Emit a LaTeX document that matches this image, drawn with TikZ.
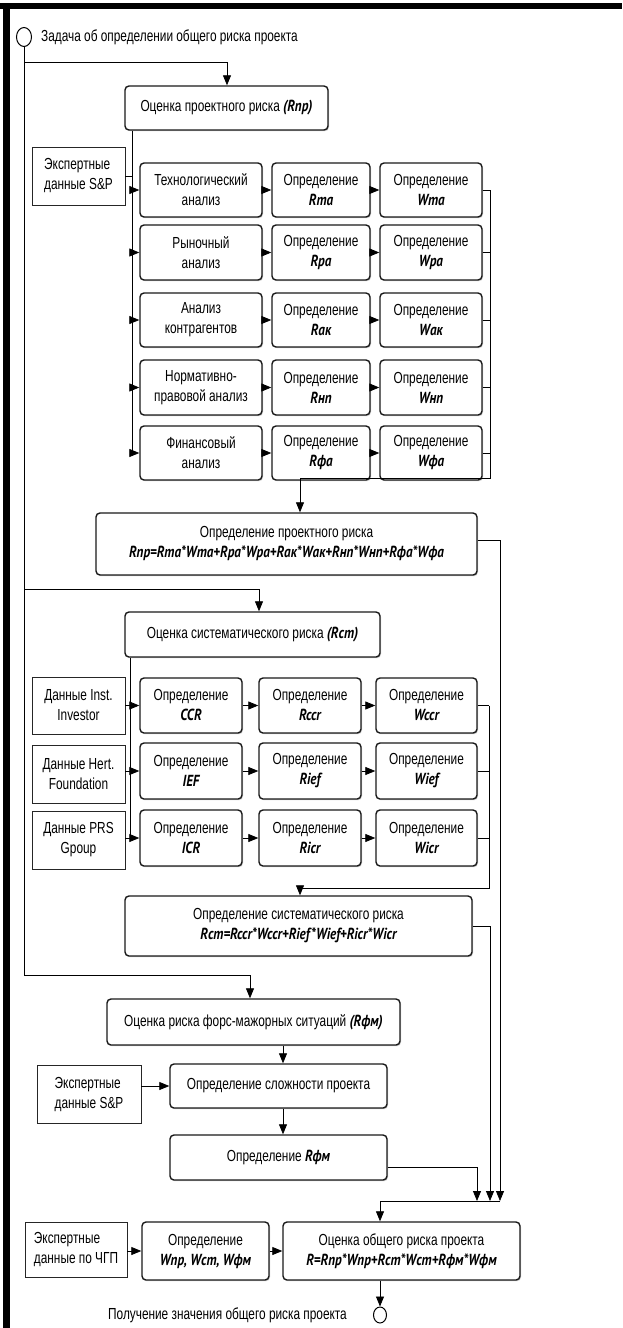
\documentclass[tikz,border=0pt]{standalone}
\usepackage{fontspec}
\setmainfont{Liberation Sans}[FakeStretch=0.74]
\newfontfamily\fmlfont{PT Sans}[FakeStretch=0.82]
\usetikzlibrary{arrows.meta,shapes.geometric,shadows}
\newcommand{\fm}[1]{{\fmlfont\bfseries\itshape #1}}
\tikzset{
  txt/.style={font=\fontsize{16}{20}\selectfont, inner sep=0pt},
  rbox/.style={txt, draw=black!90, rounded corners=4pt, line width=1.4pt, align=center, fill=white,
     drop shadow={shadow xshift=1pt, shadow yshift=-1.2pt, fill=black!35, opacity=0.6}},
  sbox/.style={txt, draw=black!85, line width=0.9pt, align=center, fill=white,
     drop shadow={shadow xshift=1pt, shadow yshift=-1pt, fill=black!30, opacity=0.5}},
  ebox/.style={sbox, align=left},
  wh/.style 2 args={minimum width=#1pt, minimum height=#2pt},
  conn/.style={line width=0.8pt, draw=black},
  arr/.style={conn, -{Triangle[length=10pt,width=8pt]}},
  endc/.style={draw, ellipse, line width=1pt, inner sep=0pt, fill=white},
}
\begin{document}
\begin{tikzpicture}[x=1pt,y=-1pt]
\useasboundingbox (0,0) rectangle (623,1328);
\fill[black] (0,3) rectangle (622,9);
\fill[black] (3,3) rectangle (10,1328);

% start / end
\node[endc, minimum width=15pt, minimum height=19pt] (st) at (24,37) {};
\node[txt, anchor=west] (title) at (41,37) {Задача об определении общего риска проекта};

% ---------- section 1
\node[rbox, wh={203}{44}] (A) at (226.5,108) {Оценка проектного риска \fm{(Rпр)}};
\node[ebox, wh={93}{58}] (E1) at (78.5,176) {Экспертные\\данные S\&P};

\node[rbox, wh={122}{54}] (a1) at (201,190) {Технологический\\анализ};
\node[rbox, wh={98}{54}]  (b1) at (321,190) {Определение\\\fm{Rта}};
\node[rbox, wh={102}{54}] (c1) at (431,190) {Определение\\\fm{Wта}};

\node[rbox, wh={122}{55}] (a2) at (201,252.5) {Рыночный\\анализ};
\node[rbox, wh={98}{55}]  (b2) at (321,252.5) {Определение\\\fm{Rра}};
\node[rbox, wh={102}{55}] (c2) at (431,252.5) {Определение\\\fm{Wра}};

\node[rbox, wh={122}{54}] (a3) at (201,320) {Анализ\\контрагентов};
\node[rbox, wh={98}{54}]  (b3) at (321,320) {Определение\\\fm{Rак}};
\node[rbox, wh={102}{54}] (c3) at (431,320) {Определение\\\fm{Wак}};

\node[rbox, wh={122}{55}] (a4) at (201,387.5) {Нормативно-\\правовой анализ};
\node[rbox, wh={98}{55}]  (b4) at (321,387.5) {Определение\\\fm{Rнп}};
\node[rbox, wh={102}{55}] (c4) at (431,387.5) {Определение\\\fm{Wнп}};

\node[rbox, wh={122}{54}] (a5) at (201,453) {Финансовый\\анализ};
\node[rbox, wh={98}{54}]  (b5) at (321,453) {Определение\\\fm{Rфа}};
\node[rbox, wh={102}{54}] (c5) at (431,453) {Определение\\\fm{Wфа}};

\node[rbox, wh={381}{62}] (B) at (286.5,544) {Определение проектного риска\\\fm{Rпр=Rта*Wта+Rра*Wра+Rак*Wак+Rнп*Wнп+Rфа*Wфа}};

% ---------- section 2
\node[rbox, wh={255}{45}] (C) at (252.5,634.5) {Оценка систематического риска \fm{(Rст)}};
\node[sbox, wh={93}{57}] (D1) at (78.5,705.5) {Данные Inst.\\Investor};
\node[sbox, wh={93}{58}] (D2) at (78.5,774) {Данные Hert.\\Foundation};
\node[sbox, wh={93}{58}] (D3) at (78.5,840) {Данные PRS\\Gpoup};

\node[rbox, wh={102}{55}] (p1) at (191,705.5) {Определение\\\fm{CCR}};
\node[rbox, wh={102}{55}] (q1) at (310,705.5) {Определение\\\fm{Rccr}};
\node[rbox, wh={101}{55}] (s1) at (426.5,705.5) {Определение\\\fm{Wccr}};

\node[rbox, wh={102}{56}] (p2) at (191,771) {Определение\\\fm{IEF}};
\node[rbox, wh={102}{56}] (q2) at (310,771) {Определение\\\fm{Rief}};
\node[rbox, wh={101}{56}] (s2) at (426.5,771) {Определение\\\fm{Wief}};

\node[rbox, wh={102}{56}] (p3) at (191,838) {Определение\\\fm{ICR}};
\node[rbox, wh={102}{56}] (q3) at (310,838) {Определение\\\fm{Ricr}};
\node[rbox, wh={101}{56}] (s3) at (426.5,838) {Определение\\\fm{Wicr}};

\node[rbox, wh={347}{60}] (F) at (298.5,926) {Определение систематического риска\\\fm{Rст=Rccr*Wccr+Rief*Wief+Ricr*Wicr}};

% ---------- section 3
\node[rbox, wh={293}{46}] (G) at (253.5,1022) {Оценка риска форс-мажорных ситуаций \fm{(Rфм)}};
\node[rbox, wh={217}{44}] (H) at (278.5,1086) {Определение сложности проекта};
\node[ebox, wh={104}{58}] (E3) at (89,1094) {Экспертные\\данные S\&P};
\node[rbox, wh={217}{45}] (I) at (278.5,1157.5) {Определение \fm{Rфм}};

% ---------- final
\node[ebox, wh={102}{55}] (E4) at (76,1249.5) {Экспертные\\данные по ЧГП};
\node[rbox, wh={127}{58}] (K) at (205.5,1251) {Определение\\\fm{Wпр, Wст, Wфм}};
\node[rbox, wh={237}{58}] (J) at (401.5,1251) {Оценка общего риска проекта\\\fm{R=Rпр*Wпр+Rст*Wст+Rфм*Wфм}};
\node[endc, minimum width=13pt, minimum height=16pt] (en) at (380,1315) {};
\node[txt, anchor=east] (entxt) at (347,1315) {Получение значения общего риска проекта};

% ---------- coordinates
\coordinate (t1) at (227,62);
\coordinate (t2) at (259,589);
\coordinate (t3) at (250,975);
\coordinate (v1) at (132,453);
\coordinate (v2) at (130,838);
\coordinate (w1) at (490,478);
\coordinate (w1b) at (300,478);
\coordinate (w2) at (489,888);
\coordinate (w2b) at (300,888);
\coordinate (z1) at (500,1201);
\coordinate (z2) at (490,1201);
\coordinate (z3) at (477,1201);
\coordinate (z4) at (380,1201);
\coordinate (hx) at (283,1000);

% ---------- connectors
\draw[conn] (st.south) -- (st.south |- t3);
\draw[arr] (st.south |- t1) -- (t1) -- (A.north -| t1);
\draw[arr] (st.south |- t2) -- (t2) -- (C.north -| t2);
\draw[arr] (st.south |- t3) -- (t3) -- (G.north -| t3);

% section 1
\draw[conn] (A.south -| v1) -- (v1);
\draw[conn] (E1.east) -- (E1.east -| v1);
\foreach \r in {1,...,5}{
  \draw[arr] (a\r.west -| v1) -- (a\r.west);
  \draw[arr] (a\r.east) -- (b\r.west);
  \draw[arr] (b\r.east) -- (c\r.west);
  \draw[conn] (c\r.east) -- (c\r.east -| w1);
}
\draw[arr] (c1.east -| w1) -- (w1) -- (w1b) -- (B.north -| w1b);

% section 2
\draw[conn] (C.south -| v2) -- (v2);
\foreach \r in {1,2,3}{
  \draw[arr] (D\r.east |- p\r.west) -- (p\r.west);
  \draw[arr] (p\r.east) -- (q\r.west);
  \draw[arr] (q\r.east) -- (s\r.west);
  \draw[conn] (s\r.east) -- (s\r.east -| w2);
}
\draw[arr] (s1.east -| w2) -- (w2) -- (w2b) -- (F.north -| w2b);

% section 3
\draw[arr] (G.south -| hx) -- (H.north -| hx);
\draw[arr] (H.south -| hx) -- (I.north -| hx);
\draw[arr] (E3.east |- H.west) -- (H.west);

% to final
\draw[arr] ([yshift=4pt]B.east) -| (z1);
\draw[arr] (F.east) -| (z2);
\draw[arr] ([yshift=-10pt]I.east) -| (z3);
\draw[arr] (z1) -- (z4) -- (J.north -| z4);
\draw[arr] (E4.east |- K.west) -- (K.west);
\draw[arr] (K.east) -- (J.west);
\draw[arr] (J.south -| z4) -- (en.north);
\end{tikzpicture}
\end{document}
